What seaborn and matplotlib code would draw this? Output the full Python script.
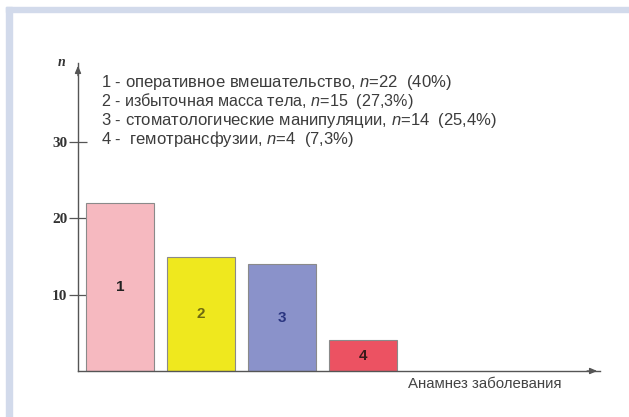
import matplotlib
matplotlib.use("Agg")
import matplotlib.pyplot as plt
import pandas as pd
import seaborn as sns
from matplotlib.patches import Rectangle

# Data
categories = ["1", "2", "3", "4"]
causes = ["оперативное вмешательство", "избыточная масса тела",
          "стоматологические манипуляции", "гемотрансфузии"]
counts = [22, 15, 14, 4]
percents = ["40%", "27,3%", "25,4%", "7,3%"]
y_ticks = [10, 20, 30]
x_title = "Анамнез заболевания"
y_title = "n"

# Styling
bar_colors = ["#F6B9C0", "#EFE81E", "#8A92CA", "#EC5262"]
number_colors = ["#222222", "#6E6A10", "#2A3580", "#3A1A1A"]
axis_color = "#555555"
text_color = "#3c3c3c"

sns.set_theme(style="white")
plt.rcParams["font.family"] = ["Liberation Sans", "DejaVu Sans"]
plt.rcParams["mathtext.fontset"] = "custom"
plt.rcParams["mathtext.it"] = "Liberation Sans:italic"
plt.rcParams["mathtext.rm"] = "Liberation Sans"
plt.rcParams["ytick.direction"] = "inout"

W, H = 629, 417
fig = plt.figure(figsize=(W / 100, H / 100), dpi=100)
fig.patch.set_facecolor("white")

# light frame band along the top and left edges
band = "#D2DAEB"
fig.patches.append(Rectangle((6 / W, (H - 12) / H), 1, 5 / H,
                             transform=fig.transFigure, color=band, zorder=0))
fig.patches.append(Rectangle((6 / W, 0), 6 / W, (H - 7) / H,
                             transform=fig.transFigure, color=band, zorder=0))

ax = fig.add_axes([78 / W, (H - 371) / H, (600 - 78) / W, (371 - 63) / H])
ax.set_facecolor("none")

df = pd.DataFrame({"cat": categories, "n": counts})
sns.barplot(data=df, x="cat", y="n", hue="cat", palette=bar_colors,
            legend=False, width=0.84, saturation=1,
            edgecolor="#8a8a8a", linewidth=0.8, ax=ax)

# numbers inside the bars
for cont, lab, col in zip(ax.containers, categories, number_colors):
    ax.bar_label(cont, labels=[lab], label_type="center", color=col,
                 fontsize=11, fontweight="bold")

ax.set_xlim((78 - 120) / 81, (600 - 120) / 81)
ax.set_ylim(0, (371 - 63) / 7.633)
ax.set_xlabel("")
ax.set_ylabel("")
ax.set_xticks([])
ax.set_yticks(y_ticks)
ax.set_yticklabels([str(t) for t in y_ticks], family="Liberation Serif",
                   fontweight="bold", fontsize=11, color="#333333")
ax.tick_params(axis="y", which="major", direction="inout", length=13,
               width=0.9, color=axis_color, labelcolor="#333333", pad=1,
               left=True)

for s in ["top", "right"]:
    ax.spines[s].set_visible(False)
for s in ["left", "bottom"]:
    ax.spines[s].set_color(axis_color)
    ax.spines[s].set_linewidth(1.0)

# axis arrows
ax.annotate("", xy=(0, 1.0), xytext=(0, 0.95), xycoords="axes fraction",
            arrowprops=dict(arrowstyle="-|>,head_length=0.35,head_width=0.15",
                            color=axis_color, lw=1.0), annotation_clip=False)
ax.annotate("", xy=(1.0, 0), xytext=(0.97, 0), xycoords="axes fraction",
            arrowprops=dict(arrowstyle="-|>,head_length=0.35,head_width=0.15",
                            color=axis_color, lw=1.0), annotation_clip=False)

# axis titles
fig.text(62 / W, (H - 63) / H, y_title, family="Liberation Serif",
         style="italic", fontweight="bold", fontsize=10, color="#333333",
         ha="center", va="center")
fig.text(561 / W, (H - 384) / H, x_title, ha="right", va="center",
         fontsize=10.8, color="#444444")

# description of the categories
line_y = [82, 101, 120, 139]
line_size = [12, 11.6, 12, 12]
for cat, cause, cnt, pct, yy, fs in zip(categories, causes, counts, percents,
                                        line_y, line_size):
    sep = " -  " if cat == "4" else " - "
    fig.text(101 / W, (H - yy) / H, f"{cat}{sep}{cause}, $n$={cnt}  ({pct})",
             ha="left", va="center", fontsize=fs, color=text_color)

fig.savefig("out.png", dpi=100, facecolor="white")
